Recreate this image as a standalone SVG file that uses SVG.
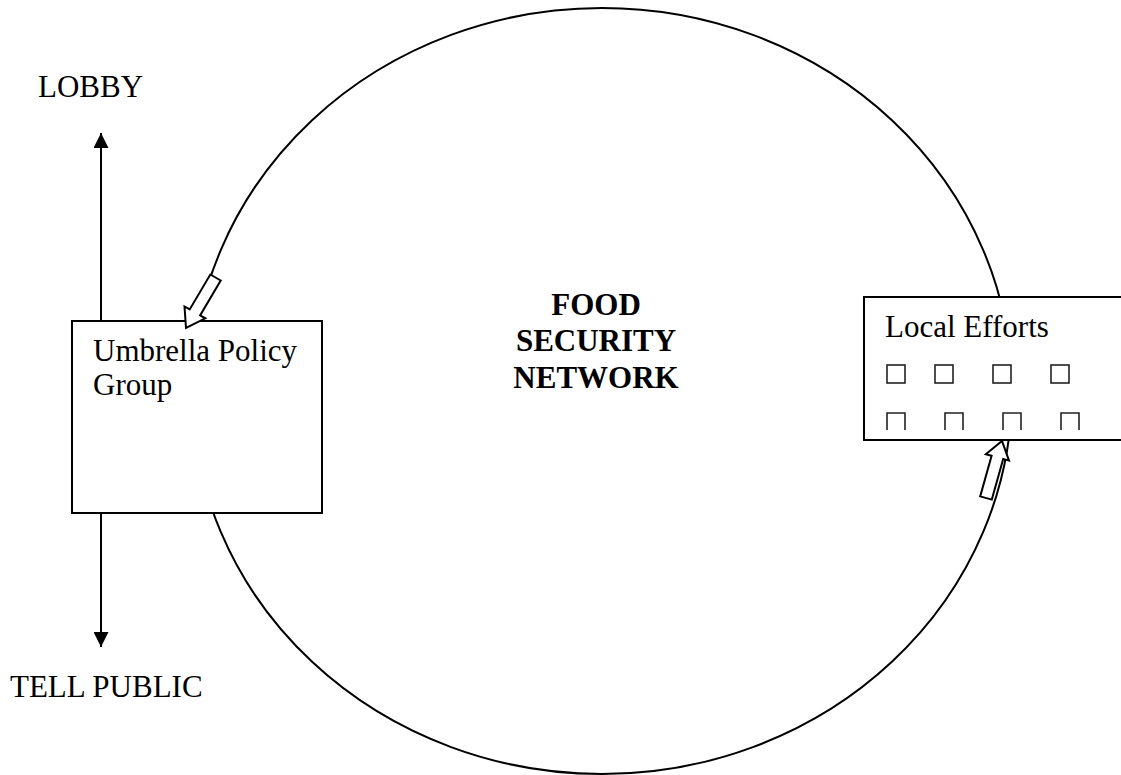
<svg xmlns="http://www.w3.org/2000/svg" width="1121" height="775" viewBox="0 0 1121 775">
<style>
.ln{fill:none;stroke:#000;stroke-width:2}
.box{fill:#fff;stroke:#000;stroke-width:2}
.ha{fill:#fff;stroke:#000;stroke-width:2;stroke-linejoin:miter}
.sq{fill:none;stroke:#222;stroke-width:1.6}
.t{font-family:"Liberation Serif","Times New Roman",serif;font-size:31px;fill:#000}
.b{font-weight:bold;text-anchor:middle}
</style>
<defs>
<marker id="ah" viewBox="0 0 10 10" refX="10" refY="5" markerWidth="15" markerHeight="15" markerUnits="userSpaceOnUse" orient="auto">
<path d="M0,0 L10,5 L0,10 Z" fill="#000"/>
</marker>
</defs>
<g id="network">
<ellipse class="ln" cx="602" cy="391" rx="410" ry="383"/>
<text class="t b" x="596" y="315">FOOD</text>
<text class="t b" x="596" y="351">SECURITY</text>
<text class="t b" x="596" y="388">NETWORK</text>
</g>
<g id="connectors">
<line class="ln" x1="101" y1="321" x2="101" y2="133" marker-end="url(#ah)"/>
<line class="ln" x1="101" y1="513" x2="101" y2="647" marker-end="url(#ah)"/>
</g>
<g id="lobby"><text class="t" x="38" y="97">LOBBY</text></g>
<g id="tell-public"><text class="t" x="10" y="697">TELL PUBLIC</text></g>
<g id="umbrella">
<rect class="box" x="72" y="321" width="250" height="192"/>
<text class="t" x="93" y="361">Umbrella Policy</text>
<text class="t" x="93" y="395">Group</text>
</g>
<g id="local">
<rect class="box" x="864" y="297" width="270" height="143"/>
<text class="t" x="885" y="337">Local Efforts</text>
<rect class="sq" x="887" y="365" width="18" height="18"/>
<rect class="sq" x="935" y="365" width="18" height="18"/>
<rect class="sq" x="993" y="365" width="18" height="18"/>
<rect class="sq" x="1051" y="365" width="18" height="18"/>
<path class="sq" d="M887 430V413H905V430M945 430V413H963V430M1003 430V413H1021V430M1061 430V413H1079V430"/>
</g>
<g id="flow-arrows">
<polygon class="ha" points="210.3,274.5 220.7,280.5 200.1,315.4 205.3,318.3 186,328 184.5,306.5 189.7,309.4"/>
<polygon class="ha" points="980.2,496.4 991.8,499.6 1003.2,459 1009,460.6 1002,441 985.8,454.2 991.6,455.8"/>
</g>
</svg>
